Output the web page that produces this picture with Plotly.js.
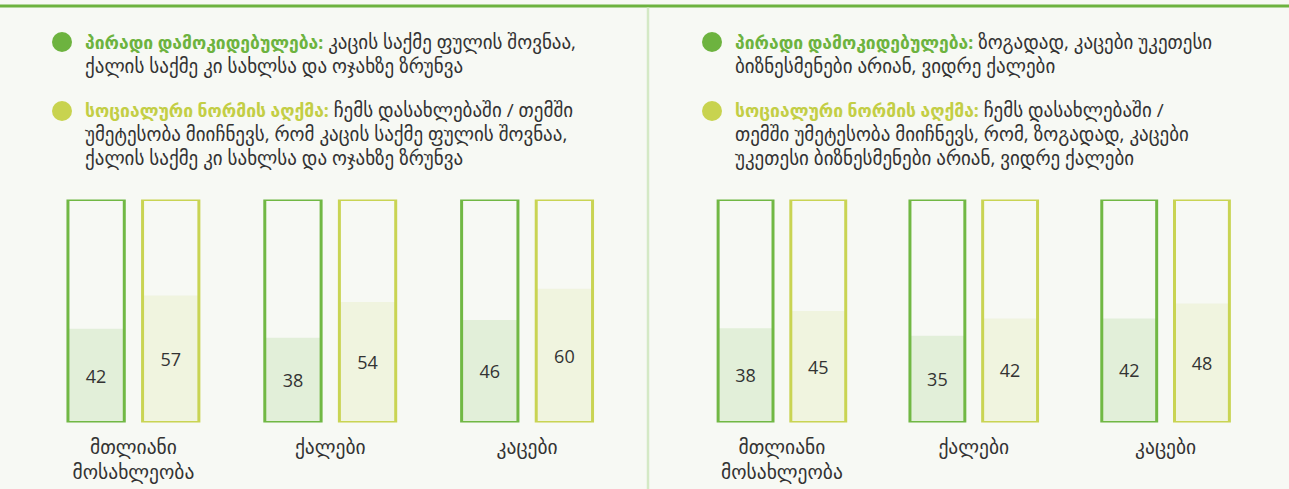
<!DOCTYPE html>
<html>
<head>
<meta charset="utf-8">
<script src="https://cdn.plot.ly/plotly-3.0.1.min.js"></script>
<style>
  html, body { margin: 0; padding: 0; background: #f7f9f4; }
  #chart { width: 1289px; height: 489px; }
</style>
</head>
<body>
<div id="chart"></div>
<script>
// ---- data ----
const categories = ['მთლიანი<br>მოსახლეობა', 'ქალები', 'კაცები'];
const leftPersonal = [42, 38, 46];
const leftSocial = [57, 54, 60];
const rightPersonal = [38, 35, 42];
const rightSocial = [45, 42, 48];
// full height of each outlined frame (scale maximum of each panel)
const leftScaleMax = [100, 100, 100];
const rightScaleMax = [90, 90, 90];

const personalLabel = 'პირადი დამოკიდებულება:';
const socialLabel = 'სოციალური ნორმის აღქმა:';
const leftPersonalText = ['კაცის საქმე ფულის შოვნაა,', 'ქალის საქმე კი სახლსა და ოჯახზე ზრუნვა'];
const leftSocialText = ['ჩემს დასახლებაში / თემში', 'უმეტესობა მიიჩნევს, რომ კაცის საქმე ფულის შოვნაა,', 'ქალის საქმე კი სახლსა და ოჯახზე ზრუნვა'];
const rightPersonalText = ['ზოგადად, კაცები უკეთესი', 'ბიზნესმენები არიან, ვიდრე ქალები'];
const rightSocialText = ['ჩემს დასახლებაში /', 'თემში უმეტესობა მიიჩნევს, რომ, ზოგადად, კაცები', 'უკეთესი ბიზნესმენები არიან, ვიდრე ქალები'];

// ---- style ----
const W = 1289, H = 489;
const GREEN = '#71b844', GREEN_FILL = '#e2efd9';
const YELLOW = '#c9d453', YELLOW_FILL = '#f0f4df';
const TEXT = '#333333';
const FONT = 'Open Sans, DejaVu Sans, sans-serif';

function fillTrace(vals, xa, ya, fill, group) {
  return {
    type: 'bar', x: categories, y: vals, xaxis: xa, yaxis: ya,
    offsetgroup: group, marker: { color: fill, line: { width: 0 } },
    text: vals.map(String), textposition: 'inside', insidetextanchor: 'middle',
    textangle: 0, constraintext: 'none',
    textfont: { family: FONT, size: 18, color: TEXT },
    hoverinfo: 'skip', showlegend: false
  };
}
function frameTrace(full, xa, ya, line, group) {
  return {
    type: 'bar', x: categories, y: full, xaxis: xa, yaxis: ya,
    offsetgroup: group, marker: { color: 'rgba(0,0,0,0)', line: { color: line, width: 3 } },
    textposition: 'none', hoverinfo: 'skip', showlegend: false
  };
}

const data = [
  fillTrace(leftPersonal, 'x', 'y', GREEN_FILL, 'p'),
  fillTrace(leftSocial, 'x', 'y', YELLOW_FILL, 's'),
  frameTrace(leftScaleMax, 'x', 'y', GREEN, 'p'),
  frameTrace(leftScaleMax, 'x', 'y', YELLOW, 's'),
  fillTrace(rightPersonal, 'x2', 'y2', GREEN_FILL, 'p'),
  fillTrace(rightSocial, 'x2', 'y2', YELLOW_FILL, 's'),
  frameTrace(rightScaleMax, 'x2', 'y2', GREEN, 'p'),
  frameTrace(rightScaleMax, 'x2', 'y2', YELLOW, 's')
];

const px = v => v / W, py = v => 1 - v / H;
const yDomain = [py(422.5), py(199.5)];

function xAxis(domain) {
  return {
    domain: domain, type: 'category', range: [-0.5, 2.5],
    showgrid: false, zeroline: false, showline: false, ticks: '',
    ticklabelstandoff: 11,
    tickfont: { family: FONT, size: 19.5, color: TEXT }, fixedrange: true
  };
}
function yAxis(anchor, max) {
  return {
    domain: yDomain, range: [0, max], anchor: anchor,
    showgrid: false, zeroline: false, showline: false, showticklabels: false, ticks: '', fixedrange: true
  };
}

// one text block per legend entry; outer font size sets the line spacing,
// inner spans set the glyph size
function legendBlock(xPix, yCenter, label, color, lines) {
  const body = lines.map((ln, i) =>
    (i === 0 ? '<span style="color:' + color + ';font-size:17.5px"><b>' + label + '</b></span> ' : '') +
    '<span style="font-size:19px">' + ln + '</span>');
  return {
    xref: 'paper', yref: 'paper', x: px(xPix), y: py(yCenter),
    xanchor: 'left', yanchor: 'middle', align: 'left', showarrow: false,
    borderpad: 0,
    font: { family: FONT, size: 18.5, color: TEXT },
    text: body.join('<br>')
  };
}

function dot(cx, cy, color) {
  return { type: 'circle', xref: 'paper', yref: 'paper',
    x0: px(cx - 10), x1: px(cx + 10), y0: py(cy + 10), y1: py(cy - 10),
    fillcolor: color, line: { width: 0 } };
}

const layout = {
  width: W, height: H,
  margin: { l: 0, r: 0, t: 0, b: 0 },
  paper_bgcolor: '#f7f9f4', plot_bgcolor: 'rgba(0,0,0,0)',
  barmode: 'group', bargap: 0.242, bargroupgap: 0.245,
  showlegend: false,
  xaxis: xAxis([px(35), px(625.5)]),
  yaxis: yAxis('x', leftScaleMax[0]),
  xaxis2: xAxis([px(686), px(1261.5)]),
  yaxis2: yAxis('x2', rightScaleMax[0]),
  shapes: [
    { type: 'line', xref: 'paper', yref: 'paper', x0: 0, x1: 1, y0: py(6), y1: py(6), line: { color: '#6db33f', width: 3 } },
    { type: 'line', xref: 'paper', yref: 'paper', x0: px(648), x1: px(648), y0: py(7.5), y1: 0, line: { color: '#d4e9c5', width: 2.5 } },
    dot(62, 42, '#6db33f'),
    dot(62, 111, '#c8d34f'),
    dot(712, 42, '#6db33f'),
    dot(712, 111, '#c8d34f')
  ],
  annotations: [
    legendBlock(84, 53.5, personalLabel, '#6db33f', leftPersonalText),
    legendBlock(84, 134, socialLabel, '#c3ce45', leftSocialText),
    legendBlock(734, 53.5, personalLabel, '#6db33f', rightPersonalText),
    legendBlock(734, 134, socialLabel, '#c3ce45', rightSocialText)
  ]
};

Plotly.newPlot('chart', data, layout, { displayModeBar: false, staticPlot: true });
</script>
</body>
</html>
